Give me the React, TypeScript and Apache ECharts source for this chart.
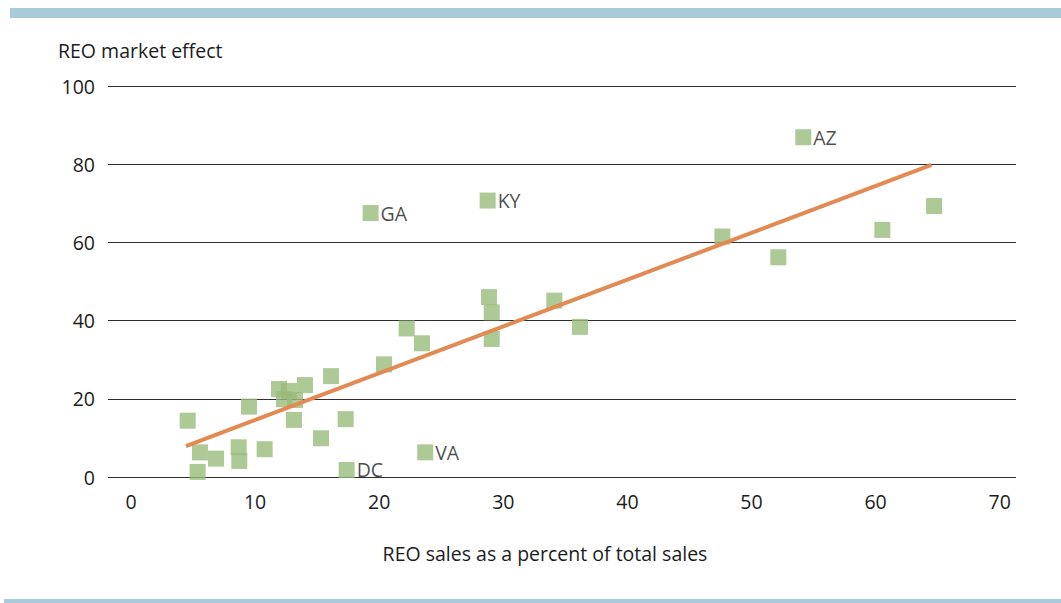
import React, { useEffect, useRef } from "react";
import * as echarts from "echarts";

const salesPct = [4.57, 5.56, 5.37, 6.85, 8.68, 8.73, 9.51, 10.77, 11.93, 12.73, 12.33, 13.22, 14.02, 13.13, 16.12, 15.31, 17.3, 17.38, 20.39, 19.31, 22.22, 23.45, 23.71, 28.74, 28.85, 29.07, 29.07, 34.11, 36.18, 47.65, 54.17, 52.16, 60.54, 64.71];
const marketEffect = [14.4, 6.3, 1.3, 4.7, 7.6, 4.1, 18.0, 7.1, 22.5, 22.0, 19.9, 19.7, 23.5, 14.6, 25.8, 9.9, 14.8, 1.8, 28.8, 67.5, 38.0, 34.2, 6.3, 70.7, 46.0, 42.1, 35.3, 45.1, 38.4, 61.5, 86.9, 56.2, 63.2, 69.3];
const stateLabels = ["", "", "", "", "", "", "", "", "", "", "", "", "", "", "", "", "", "DC", "", "GA", "", "", "VA", "KY", "", "", "", "", "", "", "AZ", "", "", ""];
const trendX = [4.43, 64.5];
const trendY = [7.9, 79.8];
const xTicks = [0, 10, 20, 30, 40, 50, 60, 70];

const FONT = "'Open Sans', 'Noto Sans', sans-serif";
const FS = 19.5;
const TXT = "#1c1c1c";

export default function App() {
  const ref = useRef<HTMLDivElement>(null);
  useEffect(() => {
    if (!ref.current) return;
    const chart = echarts.init(ref.current, null, { renderer: "svg" });
    const points = salesPct.map((x, i) => ({
      value: [x, marketEffect[i]],
      name: stateLabels[i],
    }));
    chart.setOption({
      animation: false,
      backgroundColor: "#ffffff",
      textStyle: { fontFamily: FONT },
      grid: { left: 108, right: 45, top: 86, bottom: 126 },
      graphic: [
        { type: "rect", shape: { x: 10, y: 8, width: 1051, height: 10 }, style: { fill: "#a8cbdc" } },
        { type: "rect", shape: { x: 4, y: 599, width: 1057, height: 4 }, style: { fill: "#a8cbdc" } },
        {
          type: "text",
          x: 58,
          y: 50,
          style: { text: "REO market effect", fontSize: FS, fill: TXT, fontFamily: FONT, verticalAlign: "middle" },
        },
        {
          type: "text",
          x: 545,
          y: 553,
          style: {
            text: "REO sales as a percent of total sales",
            fontSize: FS,
            fill: TXT,
            fontFamily: FONT,
            align: "center",
            verticalAlign: "middle",
          },
        },
      ],
      xAxis: {
        type: "value",
        min: -1.85,
        max: 71.31,
        axisLine: { show: false },
        axisTick: { show: false },
        splitLine: { show: false },
        axisLabel: {
          customValues: xTicks,
          margin: 14,
          fontSize: FS,
          color: TXT,
          fontFamily: FONT,
        },
      },
      yAxis: {
        type: "value",
        min: 0,
        max: 100,
        interval: 20,
        axisLine: { show: false },
        axisTick: { show: false },
        splitLine: { show: true, lineStyle: { color: "#2e2e2e", width: 1 } },
        axisLabel: { margin: 13, fontSize: FS, color: TXT, fontFamily: FONT },
      },
      series: [
        {
          type: "scatter",
          symbol: "rect",
          symbolSize: 16,
          itemStyle: { color: "#98bb7a" },
          data: points,
          label: {
            show: true,
            position: "right",
            distance: 2,
            formatter: (p: any) => p.name,
            fontSize: FS,
            color: TXT,
            fontFamily: FONT,
          },
          z: 2,
        },
        {
          type: "line",
          data: trendX.map((x, i) => [x, trendY[i]]),
          symbol: "none",
          lineStyle: { color: "#e38a52", width: 4 },
          z: 3,
        },
      ],
    });
    return () => chart.dispose();
  }, []);
  return (
    <div
      ref={ref}
      style={{ position: "fixed", left: 0, top: 0, width: 1061, height: 603 }}
    />
  );
}
